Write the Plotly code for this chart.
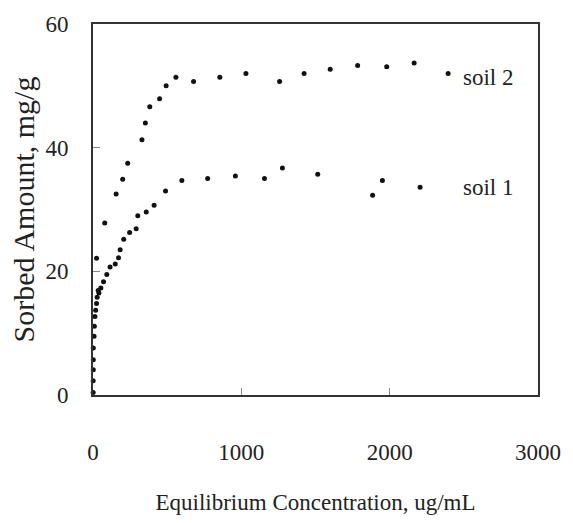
import plotly.graph_objects as go

# soil 1 : equilibrium concentration (ug/mL) and sorbed amount (mg/g)
soil1_x = [1, 1, 2, 2, 2, 7, 9, 13, 18, 24, 28, 35, 40, 53, 71, 93, 115, 150, 172, 183,
           207, 247, 291, 302, 359, 412, 489, 599, 773, 960, 1156, 1277, 1515, 1885, 1951, 2205]
soil1_y = [0.4, 2.3, 4.1, 5.7, 7.6, 9.5, 11.1, 12.7, 13.7, 14.8, 15.8, 16.9, 16.5, 17.3, 18.3, 19.5, 20.7, 21.2, 22.2, 23.5,
           25.2, 26.3, 26.9, 29.0, 29.6, 30.7, 33.0, 34.7, 35.0, 35.4, 35.0, 36.7, 35.7, 32.3, 34.7, 33.6]

# soil 2
soil2_x = [24, 79, 156, 200, 234, 330, 353, 383, 449, 493, 559, 678, 855, 1031, 1258, 1423,
           1599, 1784, 1980, 2165, 2394]
soil2_y = [22.1, 27.8, 32.5, 34.9, 37.5, 41.3, 44.0, 46.6, 47.9, 50.0, 51.4, 50.7, 51.4, 52.0, 50.7, 52.0,
           52.7, 53.3, 53.1, 53.7, 52.0]

x_ticks = [0, 1000, 2000, 3000]
y_ticks = [0, 20, 40, 60]

FONT = "Liberation Serif"
INK = "#222222"

fig = go.Figure()
for xs, ys, name in [(soil1_x, soil1_y, "soil 1"), (soil2_x, soil2_y, "soil 2")]:
    fig.add_trace(go.Scatter(x=xs, y=ys, mode="markers", name=name,
                             marker=dict(color="#111111", size=5),
                             cliponaxis=False, showlegend=False))

fig.add_annotation(x=2660, y=51.3, text="soil 2", showarrow=False,
                   font=dict(family=FONT, size=23, color=INK))
fig.add_annotation(x=2660, y=33.6, text="soil 1", showarrow=False,
                   font=dict(family=FONT, size=23, color=INK))

fig.update_layout(
    width=573, height=523,
    margin=dict(l=93, r=26, t=20, b=127),
    paper_bgcolor="white", plot_bgcolor="white",
    font=dict(family=FONT, size=23, color=INK),
    xaxis=dict(range=[0, 3000], tickvals=x_ticks, ticktext=[str(v) for v in x_ticks],
               showgrid=False, zeroline=False, showline=True, mirror=True,
               linecolor="#333333", linewidth=2, ticks="inside", ticklen=7,
               tickcolor="#888888", tickwidth=1, ticklabelstandoff=35,
               tickfont=dict(family=FONT, size=23, color=INK),
               title=dict(text="Equilibrium Concentration, ug/mL", standoff=30,
                          font=dict(family=FONT, size=23, color=INK))),
    yaxis=dict(range=[0, 60], tickvals=y_ticks, ticktext=[str(v) for v in y_ticks],
               showgrid=False, zeroline=False, showline=True, mirror=True,
               linecolor="#333333", linewidth=2, ticks="inside", ticklen=7,
               tickcolor="#888888", tickwidth=1, ticklabelstandoff=18,
               tickfont=dict(family=FONT, size=23, color=INK),
               title=dict(text="Sorbed Amount, mg/g", standoff=2,
                          font=dict(family=FONT, size=30, color=INK))),
)

fig.write_html("out.html")
